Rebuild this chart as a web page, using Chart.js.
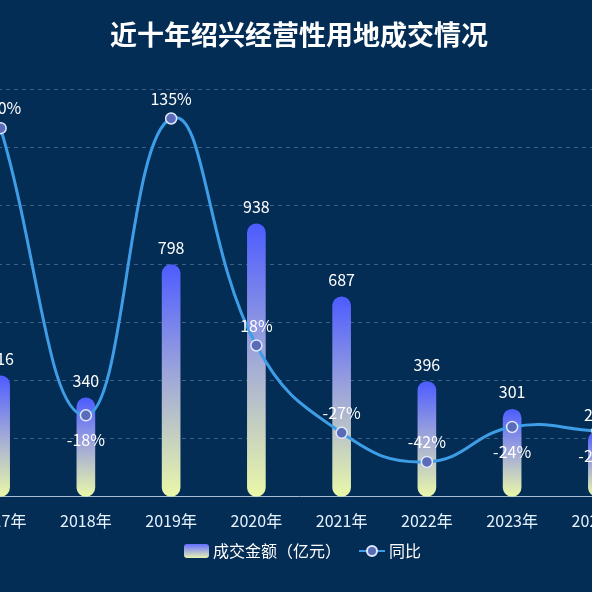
<!DOCTYPE html>
<html lang="zh">
<head>
    <meta charset="UTF-8">
    <title>近十年绍兴经营性用地成交情况</title>
    <script src="https://cdn.jsdelivr.net/npm/chart.js"></script>
    <style>
        html, body { margin: 0; padding: 0; background: #042d55; overflow: hidden; }
        .wrap { position: absolute; left: -60px; top: 0; width: 730px; height: 592px; }
    </style>
</head>
<body>
    <div class="wrap"><canvas id="landChart"></canvas></div>

    <script>
        // 数据
        const years = ['2017年', '2018年', '2019年', '2020年', '2021年', '2022年', '2023年', '2024年'];
        const amounts = [416, 340, 798, 938, 687, 396, 301, 224];   // 成交金额（亿元）
        const yoy = [130, -18, 135, 18, -27, -42, -24, -26];        // 同比 %

        const FONT = '"Noto Sans CJK SC", "Noto Sans", sans-serif';
        const LINE_COLOR = '#3d9de6';
        const POINT_FILL = '#5a6bb8';
        const POINT_BORDER = '#dfe8ff';

        // 同比标签放在点下方的年份（避免与柱顶数字重叠）
        const belowIdx = [1, 6, 7];

        function barGradient(context) {
            const chart = context.chart;
            if (!chart.chartArea || context.raw == null) return '#5060ff';
            const y = chart.scales.y;
            const top = y.getPixelForValue(context.raw);
            const bottom = y.getPixelForValue(0);
            const g = chart.ctx.createLinearGradient(0, top, 0, bottom);
            g.addColorStop(0, '#4d5cff');
            g.addColorStop(0.45, '#9aa2dc');
            g.addColorStop(1, '#eaf8a8');
            return g;
        }

        // 图例小图标（左侧留白当作图例间距）
        const ICON_W = 36;
        function barIcon() {
            const c = document.createElement('canvas');
            c.width = ICON_W; c.height = 14;
            const x = c.getContext('2d');
            const g = x.createLinearGradient(0, 0, 0, 14);
            g.addColorStop(0, '#6470ff');
            g.addColorStop(1, '#e8f5b0');
            x.fillStyle = g;
            x.beginPath();
            x.roundRect(ICON_W - 25, 0, 25, 14, 3);
            x.fill();
            return c;
        }
        function lineIcon() {
            const c = document.createElement('canvas');
            c.width = ICON_W; c.height = 14;
            const x = c.getContext('2d');
            const l = ICON_W - 26;
            x.strokeStyle = LINE_COLOR;
            x.lineWidth = 2;
            x.beginPath(); x.moveTo(l, 7); x.lineTo(ICON_W, 7); x.stroke();
            x.beginPath(); x.arc(l + 13, 7, 5, 0, Math.PI * 2);
            x.fillStyle = POINT_FILL; x.fill();
            x.strokeStyle = POINT_BORDER; x.lineWidth = 2; x.stroke();
            return c;
        }
        const icons = [barIcon(), lineIcon()];

        // 数值标签
        const valueLabels = {
            id: 'valueLabels',
            afterDatasetsDraw(chart) {
                const ctx = chart.ctx;
                ctx.save();
                ctx.font = '16px ' + FONT;
                ctx.fillStyle = '#ffffff';
                ctx.textAlign = 'center';
                ctx.textBaseline = 'middle';
                chart.getDatasetMeta(0).data.forEach((bar, i) => {
                    ctx.fillText(amounts[i], bar.x, bar.y - 17);
                });
                chart.getDatasetMeta(1).data.forEach((pt, i) => {
                    const dy = belowIdx.includes(i) ? 25 : -20;
                    ctx.fillText(yoy[i] + '%', pt.x, pt.y + dy);
                });
                ctx.restore();
            }
        };

        new Chart(document.getElementById('landChart').getContext('2d'), {
            data: {
                labels: years,
                datasets: [{
                    type: 'bar',
                    label: '成交金额（亿元）',
                    data: amounts,
                    yAxisID: 'y',
                    backgroundColor: barGradient,
                    barThickness: 18,
                    borderRadius: 9,
                    borderSkipped: false,
                    order: 1
                }, {
                    type: 'line',
                    label: '同比',
                    data: yoy,
                    yAxisID: 'y1',
                    borderColor: LINE_COLOR,
                    borderWidth: 3,
                    tension: 0.45,
                    pointRadius: 5.5,
                    pointBackgroundColor: POINT_FILL,
                    pointBorderColor: POINT_BORDER,
                    pointBorderWidth: 1.5,
                    order: 0
                }]
            },
            options: {
                responsive: true,
                maintainAspectRatio: false,
                animation: false,
                layout: { padding: { left: 18, right: 30, top: 0, bottom: 23 } },
                scales: {
                    x: {
                        grid: { display: false, tickLength: 15 },
                        border: { display: true, color: '#a9bdd6', width: 1 },
                        ticks: { color: '#e6f2ff', font: { size: 16, family: FONT }, padding: 0 }
                    },
                    y: {
                        position: 'left',
                        min: 0, max: 1400,
                        ticks: { display: false, stepSize: 200 },
                        border: { display: false, dash: [4, 4] },
                        grid: { color: 'rgba(110,150,190,0.5)', drawTicks: false },
                        afterFit(scale) { scale.width = 0; }
                    },
                    y1: {
                        position: 'right',
                        min: -60, max: 150,
                        ticks: { display: false, stepSize: 30 },
                        border: { display: false },
                        grid: { display: false, drawTicks: false },
                        afterFit(scale) { scale.width = 0; }
                    }
                },
                plugins: {
                    title: {
                        display: true,
                        text: '近十年绍兴经营性用地成交情况',
                        color: '#ffffff',
                        font: { size: 27, weight: 'bold', family: FONT },
                        padding: { top: 19, bottom: 38 }
                    },
                    legend: {
                        position: 'bottom',
                        labels: {
                            usePointStyle: true,
                            pointStyleWidth: 28,
                            color: '#ffffff',
                            font: { size: 16, family: FONT },
                            padding: 12,
                            generateLabels(chart) {
                                return chart.data.datasets.map((ds, i) => ({
                                    text: ds.label,
                                    pointStyle: icons[i],
                                    fontColor: '#ffffff',
                                    datasetIndex: i,
                                    hidden: false,
                                    lineWidth: 0
                                }));
                            }
                        }
                    },
                    tooltip: { enabled: false }
                }
            },
            plugins: [valueLabels]
        });
    </script>
</body>
</html>
